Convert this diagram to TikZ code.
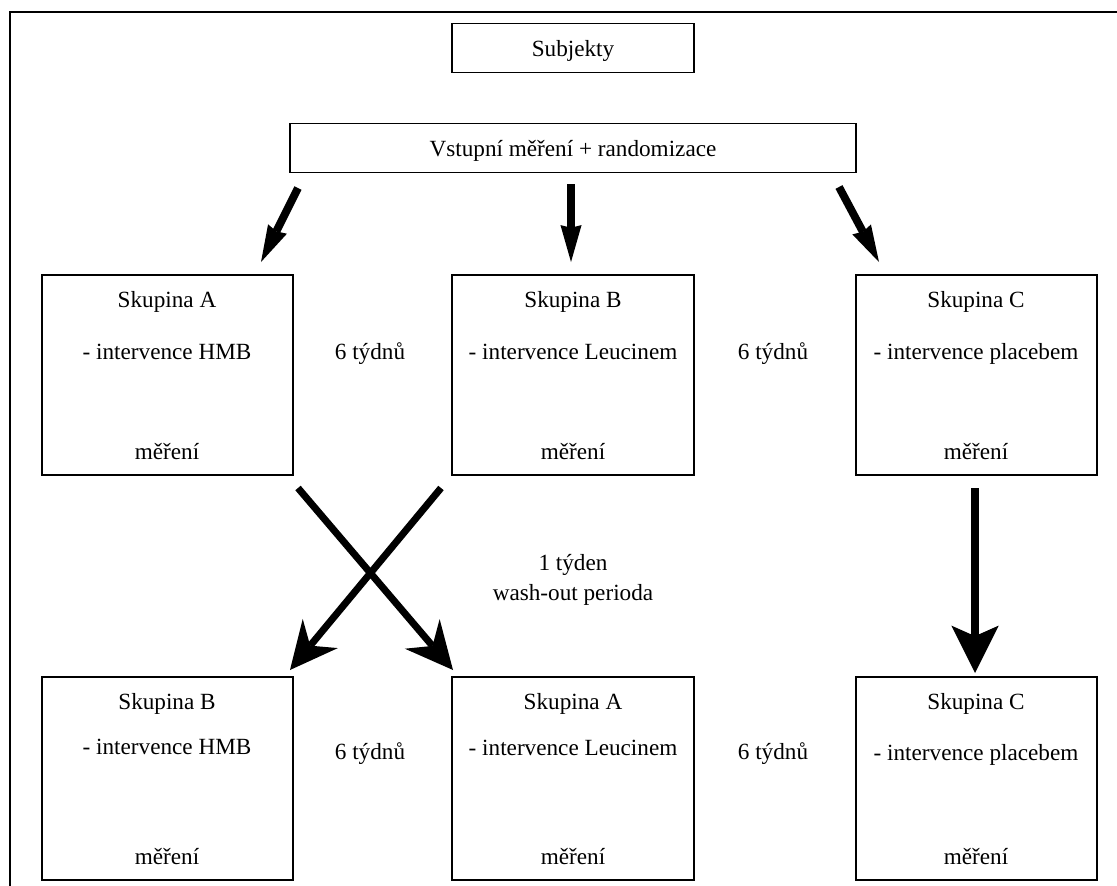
\documentclass[tikz,border=0pt]{standalone}
\usepackage{fontspec}
\setmainfont{Liberation Serif}
\usetikzlibrary{arrows.meta}
\tikzset{
  box/.style={draw, line width=0.8pt, inner sep=0pt},
  lbl/.style={inner sep=1pt, yshift=-1.7pt, text height=1.6ex, text depth=0.5ex, font=\fontsize{13.2}{16}\selectfont},
  toparrow/.style={line width=4.5pt, -{Stealth[length=21pt, width=12pt, inset=1.5pt, line width=0pt]}},
  crossarrow/.style={line width=4pt, -{Stealth[length=27pt, width=26pt, inset=9pt, line width=0pt]}},
  downarrow/.style={line width=4.5pt, -{Stealth[length=27pt, width=27pt, inset=6pt, line width=0pt]}},
}
\begin{document}
\begin{tikzpicture}[x=0.02cm, y=-0.02cm]
\useasboundingbox (0,0) rectangle (1117,886);
% frame
\draw[line width=1.1pt] (10,886)--(10,12)--(1117,12);

% top
\node[box, minimum width=242*0.02cm, minimum height=49*0.02cm] (subj) at (573,48) {};
\node[lbl] (subjt) at (573,49) {Subjekty};
\node[box, minimum width=566*0.02cm, minimum height=49*0.02cm] (vstup) at (573,148) {};
\node[lbl] (vstupt) at (573,149) {Vstupní měření + randomizace};

% first period
\node[box, minimum width=251*0.02cm, minimum height=200*0.02cm] (a1) at (167.5,375) {};
\node[box, minimum width=242*0.02cm, minimum height=200*0.02cm] (b1) at (573,375) {};
\node[box, minimum width=241*0.02cm, minimum height=200*0.02cm] (c1) at (976.5,375) {};

\node[lbl] (a1n) at (167,300) {Skupina A};
\node[lbl] (a1i) at (167,352) {- intervence HMB};
\node[lbl] (a1m) at (167,452) {měření};
\node[lbl] (b1n) at (573,300) {Skupina B};
\node[lbl] (b1i) at (573,352) {- intervence Leucinem};
\node[lbl] (b1m) at (573,452) {měření};
\node[lbl] (c1n) at (976,300) {Skupina C};
\node[lbl] (c1i) at (976,352) {- intervence placebem};
\node[lbl] (c1m) at (976,452) {měření};
\node[lbl] (t1) at (370,352) {6 týdnů};
\node[lbl] (t2) at (773,352) {6 týdnů};

% wash-out
\node[lbl] (w1) at (573,563) {1 týden};
\node[lbl] (w2) at (573,593) {wash-out perioda};

% second period
\node[box, minimum width=251*0.02cm, minimum height=203*0.02cm] (a2) at (167.5,778.5) {};
\node[box, minimum width=242*0.02cm, minimum height=203*0.02cm] (b2) at (573,778.5) {};
\node[box, minimum width=241*0.02cm, minimum height=203*0.02cm] (c2) at (976.5,778.5) {};

\node[lbl] (a2n) at (167,702) {Skupina B};
\node[lbl] (a2i) at (167,747) {- intervence HMB};
\node[lbl] (a2m) at (167,857) {měření};
\node[lbl] (b2n) at (573,702) {Skupina A};
\node[lbl] (b2i) at (573,748) {- intervence Leucinem};
\node[lbl] (b2m) at (573,857) {měření};
\node[lbl] (c2n) at (976,702) {Skupina C};
\node[lbl] (c2i) at (976,753) {- intervence placebem};
\node[lbl] (c2m) at (976,857) {měření};
\node[lbl] (t3) at (370,752) {6 týdnů};
\node[lbl] (t4) at (773,752) {6 týdnů};

% arrows
\coordinate (s1) at (298,188);
\coordinate (e1) at (261,262);
\coordinate (s2) at (571,184);
\coordinate (e2) at (571,262);
\coordinate (s3) at (839,187);
\coordinate (e3) at (879,262);
\draw[toparrow] (s1)--(e1);
\draw[toparrow] (s2)--(e2);
\draw[toparrow] (s3)--(e3);

\coordinate (x1) at (298,488);
\coordinate (y1) at (453,670);
\coordinate (x2) at (441,488);
\coordinate (y2) at (290,670);
\coordinate (x3) at (975,488);
\coordinate (y3) at (975,673);
\draw[crossarrow] (x1)--(y1);
\draw[crossarrow] (x2)--(y2);
\draw[downarrow] (x3)--(y3);
\end{tikzpicture}
\end{document}
